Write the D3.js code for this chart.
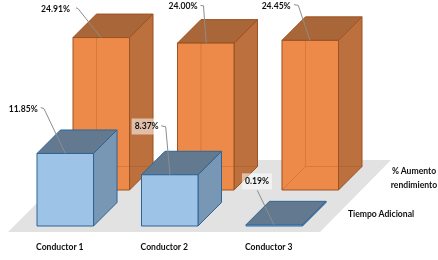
<!DOCTYPE html>
<html>
<head>
<meta charset="utf-8">
<script src="https://cdn.jsdelivr.net/npm/d3@7"></script>
<style>
  html, body { margin: 0; padding: 0; background: #fff; }
  svg { display: block; }
  text { font-family: Lato, "Liberation Sans", sans-serif; fill: #111; }
</style>
</head>
<body>
<div id="chart"></div>
<script>
// Data
const categories = ["Conductor 1", "Conductor 2", "Conductor 3"];
const seriesNames = ["Tiempo Adicional", "% Aumento rendimiento"];
const tiempoAdicional = [11.85, 8.37, 0.19];
const aumentoRendimiento = [24.91, 24.00, 24.45];

// Set dimensions
const width = 438;
const height = 260;
const frontBase = 226;   // baseline of the front row
const barDepth = 23.5;   // how far a box goes back, in x and in y
const fontSize = 8.6;

const svg = d3.select("#chart")
  .append("svg")
  .attr("width", width)
  .attr("height", height);

// The source is a soft, scaled up picture
svg.append("filter").attr("id", "soft")
  .append("feGaussianBlur").attr("stdDeviation", 0.35);

const root = svg.append("g").attr("filter", "url(#soft)");

// Scales: x for the categories, z for the rows going back, h for the values
const x = d3.scaleBand()
  .domain(categories)
  .range([37, 302.5])
  .paddingInner(0.459)
  .paddingOuter(0);

const z = d3.scalePoint()
  .domain(seriesNames)
  .range([0, 36]);

const h = d3.scaleLinear()
  .domain([0, 25])
  .range([0, 153]);

const w = x.bandwidth();

// Floor
root.append("polygon")
  .attr("points", [[8, 232], [320, 232], [391, 160], [80, 160]].join(" "))
  .attr("fill", "#e2e2e2");

const styles = {
  "Tiempo Adicional": { front: "#9dc3e6", side: "#7797b4", top: "#64798f", edge: "#2e6496" },
  "% Aumento rendimiento": { front: "#ee8a4a", side: "#bc703d", top: "#a96638", edge: "#9c5220" }
};

const path = (pts) => "M" + pts.map((p) => p.join(",")).join("L") + "Z";

// Draws one box, the front left corner of the base is (x0, y0)
function drawBox(name, cat, value) {
  const s = styles[name];
  const x0 = x(cat) + z(name);
  const y0 = frontBase - z(name);
  const top = y0 - h(value);
  const g = root.append("g")
    .attr("stroke", s.edge)
    .attr("stroke-width", 1)
    .attr("stroke-linejoin", "round");

  g.append("path").attr("fill", s.side)
    .attr("d", path([[x0 + w, top], [x0 + w + barDepth, top - barDepth], [x0 + w + barDepth, y0 - barDepth], [x0 + w, y0]]));
  g.append("path").attr("fill", s.top)
    .attr("d", path([[x0, top], [x0 + barDepth, top - barDepth], [x0 + w + barDepth, top - barDepth], [x0 + w, top]]));
  g.append("path").attr("fill", s.front)
    .attr("d", path([[x0, top], [x0 + w, top], [x0 + w, y0], [x0, y0]]));

  // The orange boxes are see through, their hidden edges show
  if (name === "% Aumento rendimiento") {
    g.append("path")
      .attr("fill", "none")
      .attr("stroke-opacity", 0.3)
      .attr("d", `M${x0 + barDepth},${top}L${x0 + barDepth},${y0 - barDepth}L${x0},${y0}M${x0 + barDepth},${y0 - barDepth}L${x0 + w + barDepth},${y0 - barDepth}`);
  }
}

// Back row first
categories.forEach((c, i) => drawBox("% Aumento rendimiento", c, aumentoRendimiento[i]));
categories.forEach((c, i) => drawBox("Tiempo Adicional", c, tiempoAdicional[i]));

// Callouts, offsets are from the front top left corner of the box
const calloutsAumento = [
  { text: [-3, -29], line: [[3, -29.7], [5, -29], [28, 0]] },
  { text: [20, -36.7], line: [[23, -37.7], [26, -37.3], [28.7, 0]] },
  { text: [8.7, -34.7], line: [[12, -35.7], [16.3, -35], [28, 0]] }
];
const calloutsTiempo = [
  { text: [0.7, -44.5], line: [[3.7, -46], [7, -44.7], [28.3, 0]] },
  { text: [17.2, -48.3], line: [[19.8, -49], [24.2, -48], [28.5, 0]] },
  { text: [23, -43.5], line: [[11.3, -34.5], [28, 0]] }
];

function drawCallouts(name, values, callouts) {
  categories.forEach((cat, i) => {
    const x0 = x(cat) + z(name);
    const top = frontBase - z(name) - h(values[i]);
    const c = callouts[i];

    const label = root.append("text")
      .attr("x", x0 + c.text[0])
      .attr("y", top + c.text[1])
      .attr("dy", "0.35em")
      .attr("text-anchor", "end")
      .attr("font-size", fontSize)
      .attr("font-weight", 700)
      .text(d3.format(".2f")(values[i]) + "%");

    // Faint white box behind the label
    const b = label.node().getBBox();
    root.insert("rect", () => label.node())
      .attr("x", b.x - 3)
      .attr("y", b.y - 3)
      .attr("width", b.width + 6)
      .attr("height", b.height + 6)
      .attr("fill", "#fff")
      .attr("fill-opacity", 0.55);

    root.insert("path", () => label.node())
      .attr("fill", "none")
      .attr("stroke", "#8c8c8c")
      .attr("stroke-width", 1)
      .attr("d", d3.line()(c.line.map((p) => [x0 + p[0], top + p[1]])));
  });
}
drawCallouts("% Aumento rendimiento", aumentoRendimiento, calloutsAumento);
drawCallouts("Tiempo Adicional", tiempoAdicional, calloutsTiempo);

// Category axis
const axis = root.append("g")
  .attr("transform", `translate(-5.5, 243.7)`)
  .call(d3.axisBottom(x).tickSize(0).tickPadding(0));
axis.select(".domain").remove();
axis.selectAll("text")
  .attr("font-size", fontSize)
  .attr("font-weight", 700)
  .attr("fill", "#111")
  .attr("font-family", "Lato, 'Liberation Sans', sans-serif");

// Series labels at the right of each row
root.append("text")
  .attr("x", 381)
  .attr("y", 214)
  .attr("dy", "0.35em")
  .attr("text-anchor", "middle")
  .attr("font-size", fontSize)
  .attr("font-weight", 700)
  .text(seriesNames[0]);

const aumentoLabel = root.append("text")
  .attr("text-anchor", "middle")
  .attr("font-size", fontSize)
  .attr("font-weight", 700);
aumentoLabel.append("tspan").attr("x", 414).attr("y", 174).text("% Aumento");
aumentoLabel.append("tspan").attr("x", 414).attr("y", 188).text("rendimiento");
</script>
</body>
</html>
